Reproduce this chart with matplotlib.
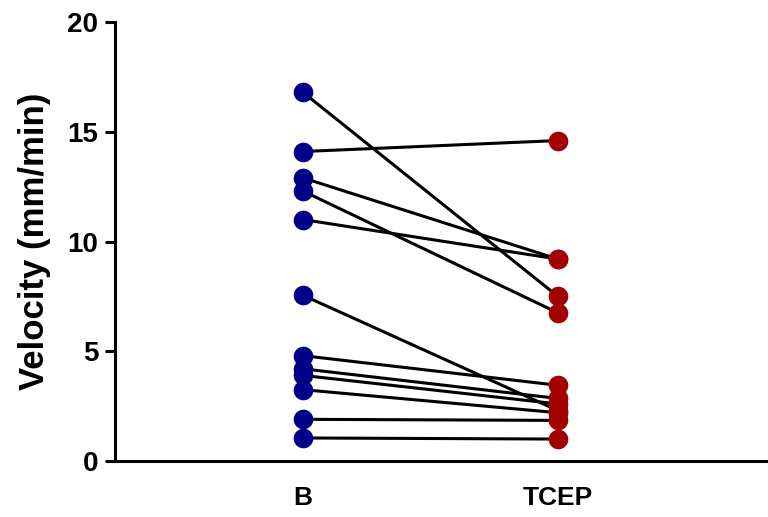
import matplotlib.pyplot as plt
import numpy as np

plt.rcParams['font.family'] = ['Liberation Sans', 'DejaVu Sans']
plt.rcParams['font.weight'] = 'bold'

groups = ['B', 'TCEP']
before = [16.8, 14.1, 12.9, 12.3, 11.0, 7.55, 4.8, 4.2, 3.9, 3.25, 1.9, 1.05]
after = [7.5, 14.6, 9.2, 6.75, 9.2, 2.3, 3.45, 2.85, 2.6, 2.2, 1.85, 1.0]

fig = plt.figure(figsize=(7.68, 5.17), dpi=100)
ax = fig.add_axes([0.1497, 0.1083, 0.8503, 0.8491])

x = np.arange(len(groups))
for b, a in zip(before, after):
  ax.plot(x, [b, a], color='black', lw=2.2, zorder=2, solid_capstyle='round')
ax.scatter(np.full(len(before), x[0]), before, s=200, color='#000088', zorder=3, linewidths=0)
ax.scatter(np.full(len(after), x[1]), after, s=200, color='#A30000', zorder=3, linewidths=0)

ax.set_xlim(-0.737, 1.824)
ax.set_ylim(0, 20)
ax.set_yticks([0, 5, 10, 15, 20])
ax.set_xticks(x)
ax.set_xticklabels(groups)
ax.set_ylabel('Velocity (mm/min)', fontsize=25, fontweight='bold', labelpad=12)

for s in ['top', 'right']:
  ax.spines[s].set_visible(False)
for s in ['left', 'bottom']:
  ax.spines[s].set_linewidth(2.2)
ax.tick_params(axis='y', width=2.2, length=7, labelsize=20, pad=5)
ax.tick_params(axis='x', length=0, labelsize=19, pad=18)

fig.savefig('out.png', dpi=100)
